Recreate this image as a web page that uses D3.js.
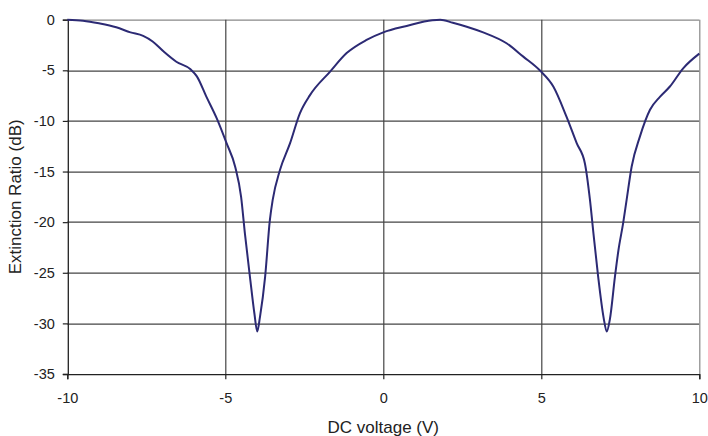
<!DOCTYPE html>
<html>
<head>
<meta charset="utf-8">
<script src="https://cdn.jsdelivr.net/npm/d3@7"></script>
<style>
  body { margin: 0; background: #fff; }
  text { font-family: "Liberation Sans", Arial, sans-serif; fill: #222; }
</style>
</head>
<body>
<svg width="708" height="436"></svg>
<script>
// DC voltage (V)
var voltage = [-10, -9.5, -9.0, -8.45, -8.0, -7.6, -7.3, -6.95, -6.55, -6.1, -5.9, -5.6, -5.27, -4.96, -4.69, -4.5, -4.38, -4.22, -4.08, -3.99, -3.9, -3.74, -3.59, -3.5, -3.27, -2.95, -2.64, -2.32, -1.69, -1.16, -0.53, 0.0, 0.74, 1.55, 1.8, 2.2, 2.64, 3.16, 3.9, 4.43, 4.95, 5.38, 5.8, 6.12, 6.38, 6.54, 6.65, 6.8, 6.97, 7.07, 7.17, 7.33, 7.44, 7.59, 7.7, 7.86, 8.12, 8.44, 8.76, 9.07, 9.49, 10];
// Extinction ratio (dB)
var ratio = [0, -0.1, -0.36, -0.75, -1.25, -1.6, -2.15, -3.15, -4.15, -4.9, -5.6, -7.6, -9.75, -12.2, -14.5, -17.5, -21.1, -25.4, -29.0, -30.8, -29.3, -25.4, -19.8, -17.8, -14.85, -12.2, -9.25, -7.45, -5.15, -3.3, -2.0, -1.25, -0.62, -0.05, 0, -0.3, -0.69, -1.25, -2.33, -3.65, -5.0, -6.6, -9.6, -12.2, -14.2, -17.8, -21.1, -25.4, -29.4, -30.8, -29.6, -25.4, -22.8, -20.1, -17.8, -14.5, -11.55, -8.9, -7.6, -6.6, -4.8, -3.35];

var xTicks = [-10, -5, 0, 5, 10];
var yTicks = [0, -5, -10, -15, -20, -25, -30, -35];

var data = voltage.map(function (v, i) { return {v: v, r: ratio[i]}; });

var svg = d3.select("svg"),
    margin = {top: 19.7, right: 8.7, bottom: 62, left: 67.3},
    width = +svg.attr("width") - margin.left - margin.right,
    height = +svg.attr("height") - margin.top - margin.bottom,
    g = svg.append("g").attr("transform", "translate(" + margin.left + "," + margin.top + ")");

var x = d3.scaleLinear().domain([-10, 10]).range([0, width]);
var y = d3.scaleLinear().domain([-35, 0]).range([height, 0]);

// plain hyphen minus, like the original
var fmt = function (d) { return String(d); };

// grid
g.append("g").selectAll("line")
    .data(yTicks.filter(function (d) { return d > -35; }))
    .enter().append("line")
    .attr("x1", 0).attr("x2", width)
    .attr("y1", function (d) { return Math.round(y(d)) + 0.5; })
    .attr("y2", function (d) { return Math.round(y(d)) + 0.5; })
    .attr("stroke", function (d) { return d === 0 ? "#888" : "#444"; })
    .attr("stroke-width", 1.2);

g.append("g").selectAll("line")
    .data(xTicks.filter(function (d) { return d > -10; }))
    .enter().append("line")
    .attr("y1", 0).attr("y2", height)
    .attr("x1", function (d) { return Math.round(x(d)) + 0.5; })
    .attr("x2", function (d) { return Math.round(x(d)) + 0.5; })
    .attr("stroke", function (d) { return d === 10 ? "#888" : "#444"; })
    .attr("stroke-width", 1.2);

// axes
var xAxis = g.append("g")
    .attr("transform", "translate(0," + (Math.round(height) + 0.5) + ")")
    .call(d3.axisBottom(x).tickValues(xTicks).tickFormat(fmt).tickSize(5).tickPadding(14));
var yAxis = g.append("g")
    .attr("transform", "translate(0.5,0)")
    .call(d3.axisLeft(y).tickValues(yTicks).tickFormat(fmt).tickSize(5).tickPadding(8));

[xAxis, yAxis].forEach(function (a) {
    a.select(".domain").attr("stroke", "#222").attr("stroke-width", 1.3);
    a.selectAll(".tick line").attr("stroke", "#222").attr("stroke-width", 1.2);
    a.selectAll(".tick text").attr("font-size", 14.5).attr("fill", "#222")
        .attr("font-family", "Liberation Sans, Arial, sans-serif");
});

// curve
var line = d3.line()
    .x(function (d) { return x(d.v); })
    .y(function (d) { return y(d.r); })
    .curve(d3.curveMonotoneX);

g.append("path")
    .datum(data)
    .attr("fill", "none")
    .attr("stroke", "#2c2a74")
    .attr("stroke-width", 2)
    .attr("d", line);

// titles
svg.append("text")
    .attr("x", margin.left + width / 2)
    .attr("y", 433)
    .attr("text-anchor", "middle")
    .attr("font-size", 17)
    .text("DC voltage (V)");

svg.append("text")
    .attr("transform", "translate(21," + (margin.top + height / 2) + ") rotate(-90)")
    .attr("text-anchor", "middle")
    .attr("font-size", 17)
    .text("Extinction Ratio (dB)");
</script>
</body>
</html>
